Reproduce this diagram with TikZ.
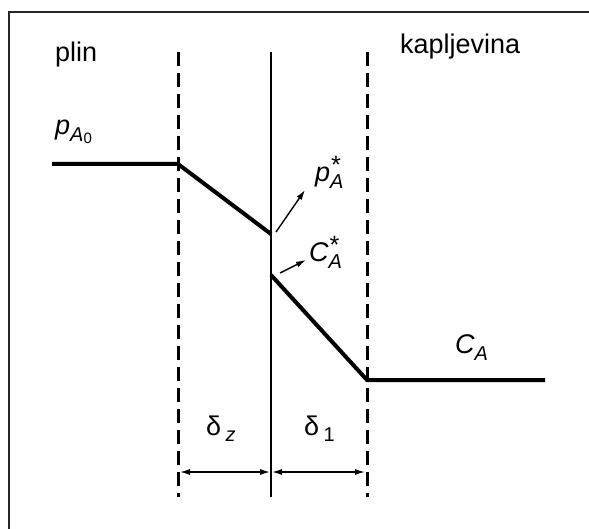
\documentclass[tikz,border=0pt]{standalone}
\usepackage{fontspec}
\setmainfont{Liberation Sans}
\usetikzlibrary{arrows.meta}
\newcommand{\dol}[2][-7pt]{\raisebox{#1}{\fontsize{20}{20}\selectfont #2}}

\begin{document}
\begin{tikzpicture}[x=1pt,y=-1pt,>={Latex[length=10pt,width=6pt]},
  t/.style={inner sep=0pt,anchor=base west,font=\fontsize{27}{29}\selectfont},
  crt/.style={dash pattern=on 14pt off 7pt,line width=3pt},
  prof/.style={line width=4pt},
  str/.style={->,line width=1.4pt}]
\useasboundingbox (0,0) rectangle (589,529);
\draw[line width=2pt,black!85] (9,529)--(9,12)--(589,12);
% granice filmova i medjupovrsina
\foreach \x in {178,367} \draw[crt] (\x,52)--(\x,497);
\draw[line width=2pt] (271,52)--(271,497);
% profili
\coordinate (g0) at (52,164); \coordinate (g1) at (178,164); \coordinate (gi) at (271,234);
\coordinate (li) at (271,275); \coordinate (l1) at (367,380); \coordinate (l2) at (545,380);
\draw[prof] (g0)--(g1)--(gi);
\draw[prof] (li)--(l1)--(l2);
% oznake
\node[t] (plin) at (55,62) {plin};
\node[t] (kap) at (400,54) {kapljevina};
\node[t] (pa0) at (55,135) {\itshape p\dol{A\dol[-2pt]{\fontsize{15}{15}\selectfont\upshape 0}}};
\node[t] (ps) at (315,182) {\itshape p\rlap{\raisebox{8pt}{\fontsize{25}{25}\selectfont *}}\dol{A}};
\node[t] (cs) at (309,262) {\itshape C\rlap{\raisebox{8pt}{\fontsize{25}{25}\selectfont *}}\dol{A}};
\node[t] (ca) at (455,353) {\itshape C\dol{A}};
\node[t] (dz) at (206,435) {δ\,\dol[-6pt]{\itshape z}};
\node[t] (d1) at (304,435) {δ\,\dol[-6pt]{1}};
% strelice
\coordinate (p0) at (276,232); \coordinate (p1) at (305,190);
\coordinate (c0) at (280,273); \coordinate (c1) at (306,260);
\draw[str] (p0)--(p1);
\draw[str] (c0)--(c1);
\coordinate (a1) at (179,472); \coordinate (a2) at (271,472); \coordinate (a3) at (366,472);
\draw[<->,line width=1.4pt,shorten <=1pt,shorten >=1pt] (a1)--(a2);
\draw[<->,line width=1.4pt,shorten <=1pt,shorten >=1pt] (a2)--(a3);
\end{tikzpicture}
\end{document}
